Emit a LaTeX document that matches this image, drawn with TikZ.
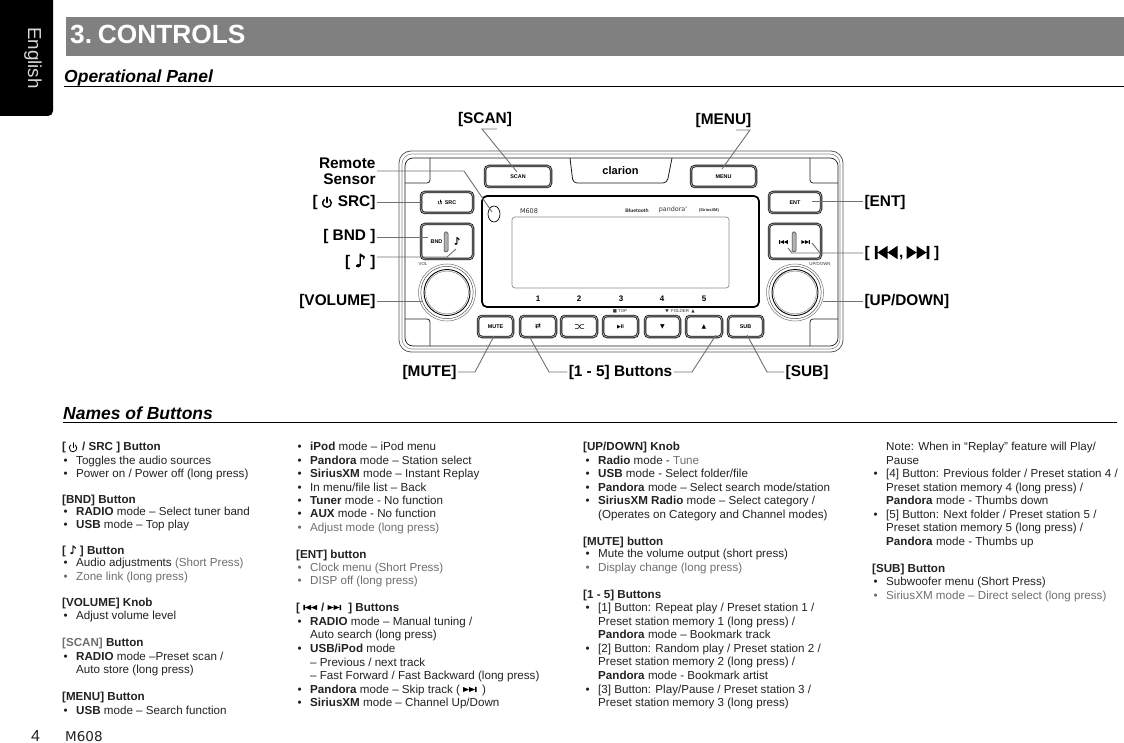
\documentclass[tikz,border=0pt]{standalone}
\usepackage{fontspec}
\setmainfont{Liberation Sans}
\newfontfamily\djv{DejaVu Sans}
\newfontfamily\djvb[FakeBold=2.5]{DejaVu Sans}
\usetikzlibrary{calc}
\definecolor{body}{HTML}{222222}
\definecolor{soft}{HTML}{6E6E6E}
\definecolor{lead}{HTML}{707070}
\newcounter{lnc}
\newcommand{\Ln}[3]{\stepcounter{lnc}\node[txt] (ln\arabic{lnc}) at (#1,#2) {#3};}
\newcommand{\Bu}[3]{\stepcounter{lnc}\node[txt] (bu\arabic{lnc}) at (#1-12.5,#2) {•};\node[txt] (ln\arabic{lnc}) at (#1,#2) {#3};}
\newcommand{\Bg}[3]{\stepcounter{lnc}\node[txt,text=soft] (bu\arabic{lnc}) at (#1-12.5,#2) {•};\node[txt,text=soft] (ln\arabic{lnc}) at (#1,#2) {#3};}
\newcommand{\Sf}[1]{\textcolor{soft}{#1}}
\newcommand{\Nt}{{\djvb ♪}}
\tikzset{
 x=1pt,y=-1pt,
 txt/.style={anchor=base west,inner sep=0pt,text=body,font=\fontsize{11.62}{13}\selectfont},
 lbl/.style={inner sep=0pt,outer sep=1.5pt,text=black,font=\bfseries\fontsize{15.4}{16}\selectfont,align=right},
 leader/.style={draw=lead,line width=.9pt},
 btn/.style={draw=black!90,double=black!30,line width=.85pt,double distance=.8pt,rounded corners=4pt,fill=white,inner sep=0pt,font=\bfseries\fontsize{5.4}{6}\selectfont},
 tiny/.style={inner sep=0pt,text=black!80,font=\fontsize{4.4}{5}\selectfont},
 num/.style={inner sep=0pt,font=\bfseries\fontsize{8}{9}\selectfont},
 skipf/.pic={\fill (-5,-3)--(-1,0)--(-5,3)--cycle (-1,-3)--(3,0)--(-1,3)--cycle (3,-3) rectangle (4.1,3);},
 skipb/.pic={\fill (5,-3)--(1,0)--(5,3)--cycle (1,-3)--(-3,0)--(1,3)--cycle (-3,-3) rectangle (-4.1,3);},
 powr/.pic={\draw[line cap=round] (.64,-.77) arc[start angle=-50,end angle=230,radius=1]; \draw[line cap=round] (0,-1.35)--(0,-.1);},
}
\begin{document}
\begin{tikzpicture}
\useasboundingbox (0,0) rectangle (1124,743);
% --- page furniture
\fill[black,rounded corners=5pt] (-10,-10) rectangle (53,116);
\node[rotate=-90,inner sep=0pt,text=white!85!black,font=\fontsize{18.8}{20}\selectfont] (tab) at (33,58) {English};
\fill[black!50] (66,17) rectangle (1124,56);
\node[anchor=base west,inner sep=0pt,text=white,font=\bfseries\fontsize{26.3}{28}\selectfont] (title) at (70,44) {3.\hspace{5.8pt}CONTROLS};
\node[anchor=base west,inner sep=0pt,font=\bfseries\itshape\fontsize{17.5}{18}\selectfont] (sec1) at (64,83) {Operational Panel};
\draw[black,line width=.8pt] (64,86.5)--(1124,86.5);
\node[anchor=base west,inner sep=0pt,font=\bfseries\itshape\fontsize{17.5}{18}\selectfont] (sec2) at (63,419) {Names of Buttons};
\draw[black,line width=.8pt] (63,422.5)--(1117,422.5);
\node[anchor=base west,inner sep=0pt,text=body,font=\fontsize{16}{18}\selectfont] (pg) at (31,741) {4};
\node[anchor=base west,inner sep=0pt,text=body,font=\djv\fontsize{13.5}{15}\selectfont] (mdl) at (65,741) {M608};
% --- bezel
\draw[black!65,line width=.8pt,rounded corners=12pt] (399,151) rectangle (843,352);
\draw[black!45,line width=.6pt,rounded corners=10pt] (402,154) rectangle (840,349);
\draw[black!90,line width=.7pt,rounded corners=8pt] (405,158) rectangle (838,346);
\draw[black!85,line width=.8pt,rounded corners=3pt] (430,158)--(430,183)--(405,183);
\draw[black!85,line width=.8pt,rounded corners=3pt] (405,319)--(430,319)--(430,346);
\draw[black!85,line width=.8pt,rounded corners=3pt] (810,158)--(810,183)--(838,183);
\draw[black!85,line width=.8pt,rounded corners=3pt] (838,319)--(810,319)--(810,346);
\draw[black!90,line width=.8pt,rounded corners=4pt] (570,158)--(573,183)--(667,183)--(672,158);
\node[inner sep=0pt,font=\bfseries\fontsize{11}{12}\selectfont] (brand) at (620.5,171) {clarion};
% --- display
\draw[black,line width=1.7pt,rounded corners=5pt] (482,196) rectangle (759,307);
\draw[black!45,line width=.7pt,rounded corners=3pt] (512,217) rectangle (729,288);
\node[inner sep=0pt,text=black!80,font=\djv\fontsize{6.5}{7}\selectfont] (dmodel) at (529,211) {M608};
\draw[black,line width=.7pt,fill=white] (494,214) ellipse (6 and 8);
\node[inner sep=0pt,text=black!85,font=\bfseries\fontsize{5}{6}\selectfont] (bt) at (637,210.5) {Bluetooth};
\node[inner sep=0pt,text=black!80,font=\djv\fontsize{6.4}{8}\selectfont] (pa) at (673,210) {pandora'};
\node[inner sep=0pt,text=black!85,font=\bfseries\fontsize{4}{5}\selectfont] (sx) at (709,210) {(SiriusXM)};
\node[num] (n1) at (538,299) {1};
\node[num] (n2) at (579,299) {2};
\node[num] (n3) at (621,299) {3};
\node[num] (n4) at (662,299) {4};
\node[num] (n5) at (704,299) {5};
\node[tiny] (ntop) at (620,311) {{\djv ■} TOP};
\node[tiny] (nfold) at (680,311) {{\djv ▼} \ FOLDER \ {\djv ▲}};
\node[tiny] (nvol) at (423,264) {VOL};
\node[tiny] (nud) at (820,264) {UP/DOWN};
% --- buttons
\node[btn,minimum width=66pt,minimum height=21pt] (scan) at (518,176.5) {SCAN};
\node[btn,minimum width=65pt,minimum height=21pt] (menu) at (723.5,176.5) {MENU};
\node[btn,minimum width=52pt,minimum height=21pt] (src) at (447,202.5) {\hspace{7pt}SRC};
\pic[line width=.5pt,scale=1.9] at (440,202.5) {powr};
\node[btn,minimum width=52pt,minimum height=21pt] (ent) at (795,202.5) {ENT};
\node[btn,minimum width=52pt,minimum height=35pt] (bnd) at (447,241.5) {};
\node[btn,minimum width=52pt,minimum height=35pt] (skp) at (795,241.5) {};
\node[inner sep=0pt,font=\bfseries\fontsize{5.4}{6}\selectfont] (bndt) at (436.5,242) {BND};
\node[inner sep=0pt,font=\djvb\fontsize{10}{10}\selectfont] (bndn) at (457,241) {♪};
\draw[black!80,fill=black!30,line width=.5pt,rounded corners=1.5pt] (444,232) rectangle (448,252);
\draw[black!80,fill=black!30,line width=.5pt,rounded corners=1.5pt] (792,232) rectangle (796,252);
\pic[xscale=.95,yscale=.65] at (783,242) {skipb};
\pic[xscale=.95,yscale=.65] at (806,242) {skipf};
\node[btn,minimum width=35pt,minimum height=21pt] (mute) at (495.5,326.5) {MUTE};
\node[btn,minimum width=36pt,minimum height=21pt] (b1) at (538,326.5) {\djv\fontsize{7}{8}\selectfont ⇄};
\node[btn,minimum width=36pt,minimum height=21pt] (b2) at (579,326.5) {};
\draw[black,line width=.5pt] (575,324.5)--(578,324.5)--(581,328.5)--(584,328.5) (575,328.5)--(578,328.5)--(581,324.5)--(584,324.5);
\node[btn,minimum width=35pt,minimum height=21pt] (b3) at (620.5,326.5) {{\djv\fontsize{5}{6}\selectfont ▶}II};
\node[btn,minimum width=35pt,minimum height=21pt] (b4) at (662.5,326.5) {\djv\fontsize{6}{7}\selectfont ▼};
\node[btn,minimum width=36pt,minimum height=21pt] (b5) at (704,326.5) {\djv\fontsize{6}{7}\selectfont ▲};
\node[btn,minimum width=35pt,minimum height=21pt] (sub) at (745.5,326.5) {SUB};
% --- knobs
\node[circle,draw=black!55,line width=.5pt,minimum size=57pt,inner sep=0pt] (vol) at (447,292.5) {};
\draw[black!70,line width=.5pt] (vol.center) circle (26.2);
\draw[black,line width=.9pt] (vol.center) circle (23);
\draw[black!55,line width=.4pt] (vol.center) circle (21.4);
\node[circle,draw=black!55,line width=.5pt,minimum size=57pt,inner sep=0pt] (ud) at (795,292.5) {};
\draw[black!70,line width=.5pt] (ud.center) circle (26.2);
\draw[black,line width=.9pt] (ud.center) circle (23);
\draw[black!55,line width=.4pt] (ud.center) circle (21.4);
% --- labels
\node[lbl,anchor=center] (lscan) at (485,120) {[SCAN]};
\node[lbl,anchor=center] (lmenu) at (723.5,120.5) {[MENU]};
\node[lbl,anchor=east] (lrem) at (377,171) {Remote\\Sensor};
\node[lbl,anchor=east] (lsrc) at (377,203) {[\hspace{20pt}SRC]};
\pic[line width=1.4pt,scale=4.3] at (327,203) {powr};
\node[lbl,anchor=east] (lbnd) at (377,237) {[ BND ]};
\node[lbl,anchor=east] (lnote) at (377,262) {[ {\djvb\fontsize{18}{18}\selectfont ♪} ]};
\node[lbl,anchor=east] (lvol) at (377,302) {[VOLUME]};
\node[lbl,anchor=east] (lmute) at (458,372.5) {[MUTE]};
\node[lbl] (lbtn) at (620.5,372.5) {[1 - 5] Buttons};
\node[lbl] (lsub) at (807,372.5) {[SUB]};
\node[lbl,anchor=west] (lent) at (863,202.5) {[ENT]};
\node[lbl,anchor=west] (lskp) at (863,253.5) {[\hspace{29.5pt}, \hspace{26.5pt}]};
\pic[xscale=2.5,yscale=2.2] at (885,252.5) {skipb};
\pic[xscale=2.5,yscale=2.2] at (919,252.5) {skipf};
\node[lbl,anchor=west] (lud) at (863,302) {[UP/DOWN]};
% --- connector ends
\coordinate (sc1) at (497,129);\coordinate (sc2) at (482,129);\coordinate (sc3) at (517,172);
\coordinate (me1) at (736,130);\coordinate (me2) at (750,130);\coordinate (me3) at (722,169);
\coordinate (re1) at (464,171);\coordinate (re2) at (492,212);
\coordinate (sr1) at (423,202);\coordinate (bn1) at (428,237);
\coordinate (no1) at (447,257);\coordinate (no2) at (456,249);
\coordinate (vo1) at (422,301);\coordinate (ud1) at (823,301);
\coordinate (mu1) at (475,372);\coordinate (mu2) at (494,336);
\coordinate (bl1) at (549,372);\coordinate (bl2) at (529,336);
\coordinate (br1) at (692,372);\coordinate (br2) at (716,335);
\coordinate (su1) at (767,372);\coordinate (su2) at (747,335);
\coordinate (en1) at (812,201);
\coordinate (sk1) at (820,253);\coordinate (sk2) at (812,243);\coordinate (sk3) at (792,253);\coordinate (sk4) at (788,248);
% --- connectors
\draw[leader] (sc1)--(sc2)--(sc3);
\draw[leader] (me1)--(me2)--(me3);
\draw[leader] (lrem.east)--(re1)--(re2);
\draw[leader] (lsrc.east|-sr1)--(sr1);
\draw[leader] (lbnd.east|-bn1)--(bn1);
\draw[leader] (lnote.east|-no1)--(no1)--(no2);
\draw[leader] (lvol.east|-vo1)--(vo1);
\draw[leader] (lmute.east|-mu1)--(mu1)--(mu2);
\draw[leader] (lbtn.west|-bl1)--(bl1)--(bl2);
\draw[leader] (lbtn.east|-br1)--(br1)--(br2);
\draw[leader] (lsub.west|-su1)--(su1)--(su2);
\draw[leader] (lent.west|-en1)--(en1);
\draw[leader] (lskp.west|-sk1)--(sk3)--(sk4);
\draw[leader] (sk1)--(sk2);
\draw[leader] (lud.west|-ud1)--(ud1);
% --- column 1
\Ln{62}{450}{\bfseries [\hspace{16pt}/ SRC ] Button}
\pic[line width=.8pt,scale=3.8] at (73,448) {powr};
\Bu{76}{464}{Toggles the audio sources}
\Bu{76}{477}{Power on / Power off (long press)}
\Ln{62}{503}{\bfseries [BND] Button}
\Bu{76}{515}{\textbf{RADIO} mode – Select tuner band}
\Bu{76}{528}{\textbf{USB} mode – Top play}
\Ln{62}{554}{\bfseries [ \Nt\ ] Button}
\Bu{76}{566}{Audio adjustments \Sf{(Short Press)}}
\Bg{76}{580}{Zone link (long press)}
\Ln{62}{606}{\bfseries [VOLUME] Knob}
\Bu{76}{619}{Adjust volume level}
\Ln{62}{646}{\bfseries \Sf{[SCAN]} Button}
\Bu{76}{660}{\textbf{RADIO} mode –Preset scan /}
\Ln{76}{673}{Auto store (long press)}
\Ln{62}{700}{\bfseries [MENU] Button}
\Bu{76}{714}{\textbf{USB} mode – Search function}
% --- column 2
\Bu{310}{450}{\textbf{iPod} mode – iPod menu}
\Bu{310}{464}{\textbf{Pandora} mode – Station select}
\Bu{310}{477}{\textbf{SiriusXM} mode – Instant Replay}
\Bu{310}{491}{In menu/file list – Back}
\Bu{310}{504}{\textbf{Tuner} mode - No function}
\Bu{310}{517}{\textbf{AUX} mode - No function}
\Bg{310}{531}{Adjust mode (long press)}
\Ln{296}{558}{\bfseries [ENT] button}
\Bg{310}{571}{Clock menu (Short Press)}
\Bg{310}{584}{DISP off (long press)}
\Ln{296}{611}{\bfseries [\hspace{21pt}/\hspace{24pt}] Buttons}
\pic[xscale=1.5,yscale=.85] at (309.5,607.5) {skipb};
\pic[xscale=1.5,yscale=.85] at (335,607.5) {skipf};
\Bu{310}{625}{\textbf{RADIO} mode – Manual tuning /}
\Ln{310}{638}{Auto search (long press)}
\Bu{310}{652}{\textbf{USB/iPod} mode}
\Ln{310}{666}{– Previous / next track}
\Ln{310}{679}{– Fast Forward / Fast Backward (long press)}
\Bu{310}{693}{\textbf{Pandora} mode – Skip track (\hspace{22pt})}
\pic[xscale=1.5,yscale=.85] at (470.5,689.5) {skipf};
\Bu{310}{706}{\textbf{SiriusXM} mode – Channel Up/Down}
% --- column 3
\Ln{583}{450}{\bfseries [UP/DOWN] Knob}
\Bu{598}{464}{\textbf{Radio} mode - \Sf{Tune}}
\Bu{598}{477}{\textbf{USB} mode - Select folder/file}
\Bu{598}{491}{\textbf{Pandora} mode – Select search mode/station}
\Bu{598}{504}{\textbf{SiriusXM Radio} mode – Select category /}
\Ln{598}{518}{(Operates on Category and Channel modes)}
\Ln{583}{545}{\bfseries [MUTE] button}
\Bu{598}{557}{Mute the volume output (short press)}
\Bg{598}{571}{Display change (long press)}
\Ln{583}{598}{\bfseries [1 - 5] Buttons}
\Bu{598}{611}{[1] Button: Repeat play / Preset station 1 /}
\Ln{598}{625}{Preset station memory 1 (long press) /}
\Ln{598}{638}{\textbf{Pandora} mode – Bookmark track}
\Bu{598}{652}{[2] Button: Random play / Preset station 2 /}
\Ln{598}{665}{Preset station memory 2 (long press) /}
\Ln{598}{679}{\textbf{Pandora} mode - Bookmark artist}
\Bu{598}{693}{[3] Button: Play/Pause / Preset station 3 /}
\Ln{598}{706}{Preset station memory 3 (long press)}
% --- column 4
\Ln{886}{450}{Note: When in “Replay” feature will Play/}
\Ln{886}{464}{Pause}
\Bu{886}{477}{[4] Button: Previous folder / Preset station 4 /}
\Ln{886}{491}{Preset station memory 4 (long press) /}
\Ln{886}{504}{\textbf{Pandora} mode - Thumbs down}
\Bu{886}{518}{[5] Button: Next folder / Preset station 5 /}
\Ln{886}{531}{Preset station memory 5 (long press) /}
\Ln{886}{545}{\textbf{Pandora} mode - Thumbs up}
\Ln{872}{572}{\bfseries [SUB] Button}
\Bu{886}{585}{Subwoofer menu (Short Press)}
\Bg{886}{599}{SiriusXM mode – Direct select (long press)}
\end{tikzpicture}
\end{document}
